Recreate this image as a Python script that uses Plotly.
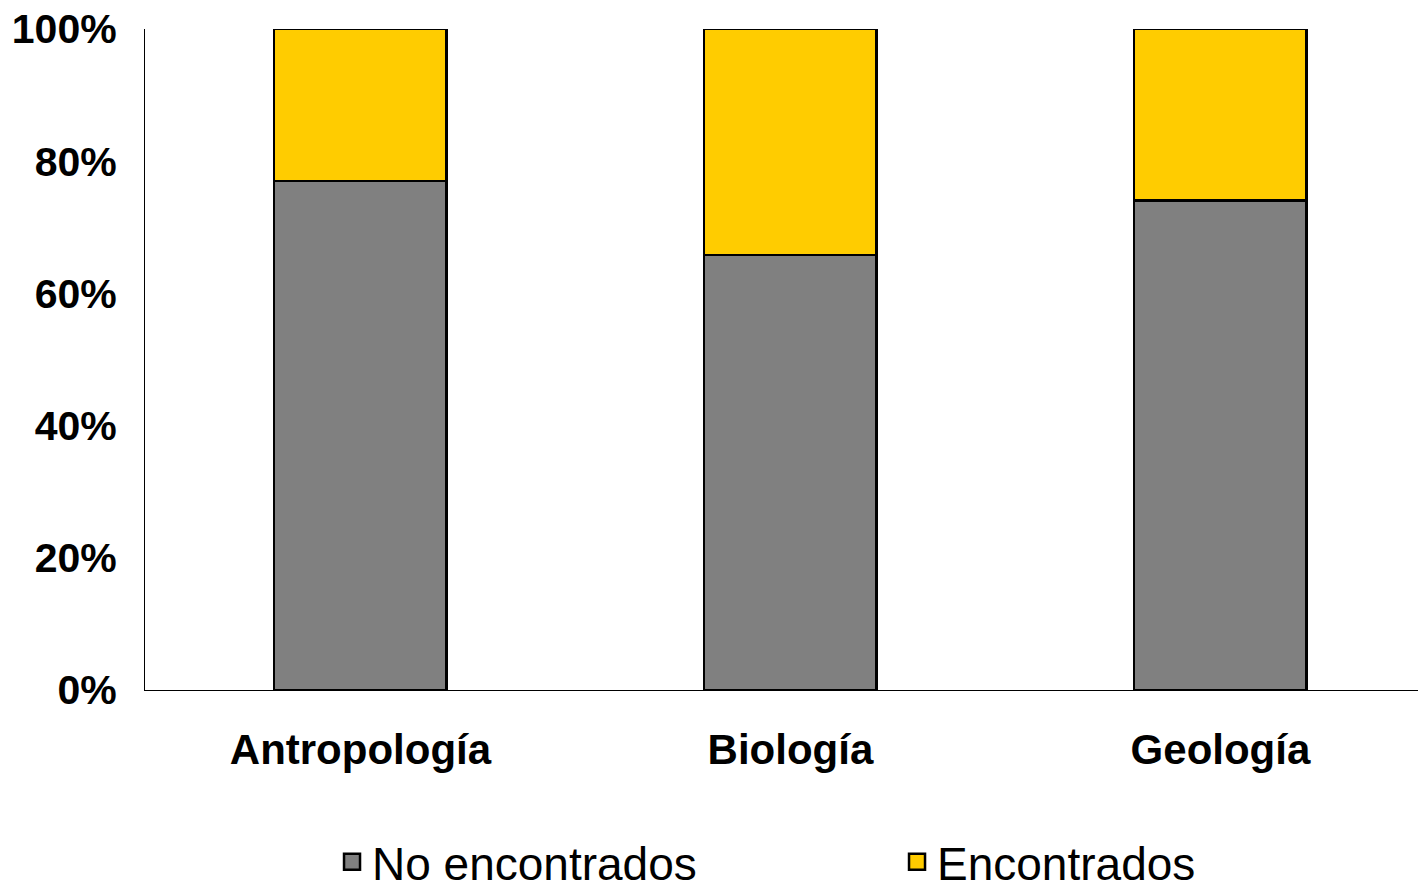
import plotly.graph_objects as go

categories = ["Antropología", "Biología", "Geología"]
no_encontrados = [77.0, 65.8, 74.1]
encontrados = [23.0, 34.2, 25.9]
series_names = ["No encontrados", "Encontrados"]
series_colors = ["#808080", "#FFCC00"]
y_ticks = [0, 20, 40, 60, 80, 100]
y_tick_labels = ["0%", "20%", "40%", "60%", "80%", "100%"]

fig = go.Figure()
for name, vals, col in zip(series_names, [no_encontrados, encontrados], series_colors):
    fig.add_trace(go.Bar(
        x=categories, y=vals, name=name, showlegend=False,
        marker=dict(color=col, line=dict(color="#000000", width=2.8)),
    ))
# legend-only entries with larger square swatches
for name, col in zip(series_names, series_colors):
    fig.add_trace(go.Scatter(
        x=[None], y=[None], mode="markers", name=name,
        marker=dict(symbol="square", size=30, color=col,
                    line=dict(color="#000000", width=2.5)),
    ))

fig.update_layout(
    barmode="stack",
    bargap=0.598,
    width=1418, height=881,
    margin=dict(l=137, r=0, t=21, b=199, autoexpand=False),
    paper_bgcolor="white", plot_bgcolor="white",
    font=dict(family="Liberation Sans, Arial, sans-serif", color="#000000"),
    showlegend=True,
    legend=dict(
        orientation="h", x=0.146, xanchor="left", y=-0.26, yanchor="middle",
        font=dict(size=46, family="Liberation Sans, Arial, sans-serif"),
        entrywidth=520, entrywidthmode="pixels", traceorder="normal",
        itemsizing="trace",
    ),
    xaxis=dict(
        range=[-0.501, 2.478],
        showline=True, linecolor="#000000", linewidth=1.2,
        tickfont=dict(size=42, weight="bold"),
        ticks="", ticklabelstandoff=22,
    ),
    yaxis=dict(
        range=[0, 100], tickmode="array", tickvals=y_ticks, ticktext=y_tick_labels,
        showline=True, linecolor="#000000", linewidth=1.2,
        showgrid=False, zeroline=False,
        tickfont=dict(size=41, weight="bold"),
        ticks="", ticklabelstandoff=19, ticklabeloverflow="allow",
    ),
)

fig.write_html("out.html")
